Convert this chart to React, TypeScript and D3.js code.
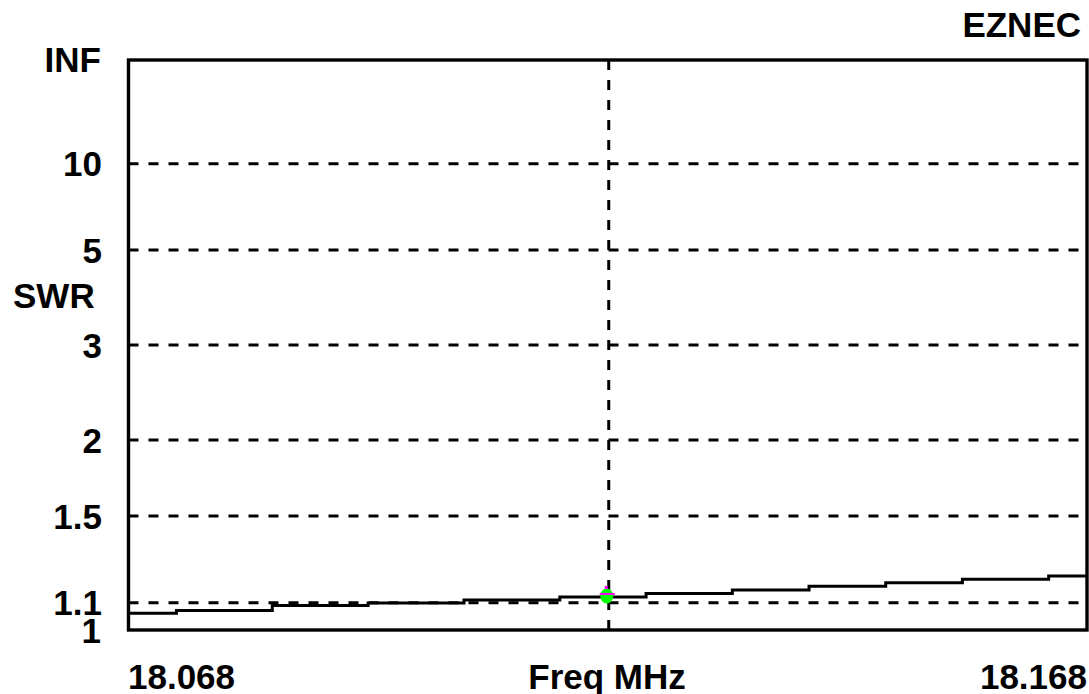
import React from "react";
import * as d3 from "d3";

// SWR sweep (step start frequency, SWR)
const stepFreqs = [
  18.068, 18.073, 18.083, 18.093, 18.103, 18.113, 18.122, 18.131, 18.139,
  18.147, 18.155, 18.164, 18.168,
];
const stepSwr = [
  1.061, 1.071, 1.09, 1.099, 1.111, 1.123, 1.137, 1.151, 1.166, 1.181, 1.195,
  1.209, 1.209,
];
const swrTicks = [10, 5, 3, 2, 1.5, 1.1];
const swrTickLabels = ["10", "5", "3", "2", "1.5", "1.1"];
const markerFreq = 18.118;
const markerSwr = 1.127;
const freqMin = 18.068;
const freqMax = 18.168;

const rho = (s: number) => (isFinite(s) ? (s - 1) / (s + 1) : 1);

export default function App() {
  const width = 1089;
  const height = 694;
  const left = 128.5;
  const right = 1087;
  const top = 60;
  const bottom = 630;

  const x = d3.scaleLinear().domain([freqMin, freqMax]).range([left, right]);
  const y = d3.scaleLinear().domain([0, 1]).range([bottom, top]);

  const line = d3
    .line<number>()
    .x((_, i) => x(stepFreqs[i]))
    .y((d) => y(rho(d)))
    .curve(d3.curveStepAfter);

  const font = "Arial, 'Liberation Sans', sans-serif";
  const labelSize = 35;

  const mx = x(markerFreq);
  const my = y(rho(markerSwr));

  return (
    <svg
      width={width}
      height={height}
      style={{ position: "absolute", left: 0, top: 0, background: "#fff" }}
      fontFamily={font}
      fontSize={labelSize}
      fontWeight="bold"
    >
      {/* horizontal grid */}
      <g stroke="#000" strokeWidth={3} strokeDasharray="10 10">
        {swrTicks.map((t) => (
          <line key={t} x1={left} x2={right} y1={y(rho(t))} y2={y(rho(t))} />
        ))}
        <line
          x1={x(markerFreq) + 1}
          x2={x(markerFreq) + 1}
          y1={top}
          y2={bottom}
        />
      </g>

      {/* SWR curve */}
      <path
        d={line(stepSwr) || ""}
        fill="none"
        stroke="#000"
        strokeWidth={3}
      />

      {/* frame */}
      <rect
        x={left}
        y={top}
        width={right - left}
        height={bottom - top}
        fill="none"
        stroke="#000"
        strokeWidth={3.4}
      />

      {/* marker */}
      <ellipse cx={mx - 1} cy={my} rx={6.5} ry={7.5} fill="#00ff00" />
      <line
        x1={mx - 8}
        x2={mx + 7}
        y1={my - 2}
        y2={my - 2}
        stroke="#ff00ff"
        strokeWidth={2}
      />
      <rect x={mx - 3} y={my - 10} width={3} height={3} fill="#ff00ff" />

      {/* y tick labels */}
      <g textAnchor="end" fill="#000">
        <text x={101} y={y(1) + 12}>
          INF
        </text>
        {swrTicks.map((t, i) => (
          <text key={t} x={102} y={y(rho(t)) + 12.5}>
            {swrTickLabels[i]}
          </text>
        ))}
        <text x={101} y={y(0) + 13}>
          1
        </text>
      </g>

      <text x={13} y={308} fill="#000">
        SWR
      </text>
      <text x={1081} y={37} textAnchor="end" fill="#000">
        EZNEC
      </text>

      {/* x labels */}
      <text x={128} y={689} fill="#000">
        {freqMin.toFixed(3)}
      </text>
      <text x={607} y={689} textAnchor="middle" fill="#000">
        Freq MHz
      </text>
      <text x={1087} y={689} textAnchor="end" fill="#000">
        {freqMax.toFixed(3)}
      </text>
    </svg>
  );
}
